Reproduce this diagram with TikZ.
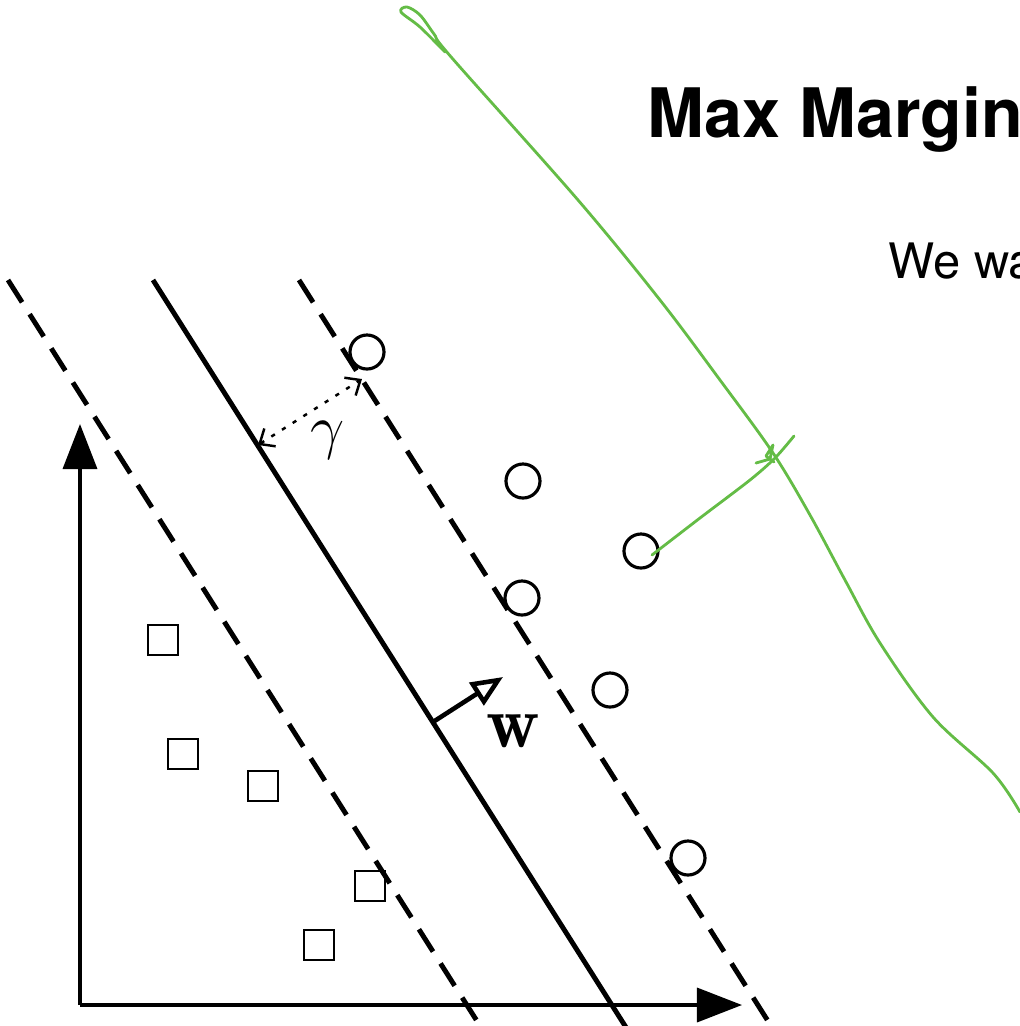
\documentclass[tikz,border=0pt]{standalone}
\usepackage{fontspec}
\newfontfamily\slidefont{TeX Gyre Heros}
\usetikzlibrary{arrows.meta}
\definecolor{penGreen}{RGB}{100,188,70}

\begin{document}
\begin{tikzpicture}[x=0.01cm, y=-0.01cm, >=Stealth]

% --- Styles ---
\tikzset{
    posdot/.style={
        circle, draw=black,
        line width=0.9pt,
        minimum size=0.34cm,
        inner sep=0pt
    },
    negbox/.style={
        rectangle, draw=black,
        line width=0.8pt,
        minimum size=0.30cm,
        inner sep=0pt
    },
    boundaryline/.style={line width=1.4pt},
    marginline/.style={line width=1.4pt, dash pattern=on 7.5pt off 4pt},
    axisline/.style={
        line width=0.9pt,
        -{Triangle[length=12.8pt,width=9.7pt]}
    },
    gaparrow/.style={
        line width=0.7pt,
        dash pattern=on 1.2pt off 2.4pt,
        {Straight Barb[length=3.5pt,width=6pt]}-{Straight Barb[length=3.5pt,width=6pt]}
    },
    normalvec/.style={
        line width=1.3pt,
        -{Triangle[open,length=9pt,width=7.5pt,line width=1.3pt]}
    },
    penstroke/.style={draw=penGreen, line width=0.8pt, line cap=round, line join=round}
}

\path[use as bounding box, clip] (0,0) rectangle (1020,1026);

% --- Text ---
\node[anchor=base west, inner sep=0pt, font=\slidefont\fontsize{19.4}{23}\selectfont\bfseries]
    (title) at (647,137) {Max Margin};
\node[anchor=base west, inner sep=0pt, font=\slidefont\fontsize{13.9}{17}\selectfont]
    (intro) at (888,278) {We wa};

% --- Axes ---
\coordinate (origin) at (80,1005);
\coordinate (xend) at (742,1005);
\coordinate (yend) at (80,424);
\draw[axisline] (origin) -- (xend);
\draw[axisline] (origin) -- (yend);

% --- Separating lines ---
\coordinate (a1) at (8,280);   \coordinate (a2) at (489,1040);
\coordinate (b1) at (153,280); \coordinate (b2) at (634,1040);
\coordinate (c1) at (299,280); \coordinate (c2) at (780,1040);
\draw[marginline] (a1) -- (a2);
\draw[boundaryline] (b1) -- (b2);
\draw[marginline] (c1) -- (c2);

% --- Data points ---
\node[posdot] (p1) at (367,352) {};
\node[posdot] (p2) at (523,481) {};
\node[posdot] (p3) at (641,551) {};
\node[posdot] (p4) at (522,598) {};
\node[posdot] (p5) at (610,690) {};
\node[posdot] (p6) at (688,858) {};

\node[negbox] (q1) at (163,640) {};
\node[negbox] (q2) at (183,754) {};
\node[negbox] (q3) at (263,786) {};
\node[negbox] (q4) at (370,886) {};
\node[negbox] (q5) at (319,945) {};

% --- Margin and normal ---
\coordinate (g1) at (258,445);
\coordinate (g2) at (362,379);
\draw[gaparrow] (g1) -- (g2);
\node[font=\fontsize{19}{22}\selectfont] (gamma) at (328,440) {$\gamma$};

\coordinate (w1) at (433,722);
\coordinate (w2) at (503,677);
\draw[normalvec] (w1) -- (w2);
\node[font=\fontsize{21}{24}\selectfont] (wlabel) at (513,731) {$\mathbf{w}$};

% --- Green pen strokes ---
\draw[penstroke] plot[smooth, tension=0.55] coordinates {
    (445,52) (420,27) (401,12) (407,7) (420,15) (434,34) (452,58)
    (578,200) (660,300) (720,380) (773,453) (810,515) (845,580)
    (880,643) (933,717) (993,773) (1020,812)};
\draw[penstroke] plot[smooth] coordinates {
    (652,555) (700,518) (750,480) (775,458) (794,436)};
\draw[penstroke] (756,463) -- (770,459) -- (773,445) -- (766,456) -- (774,462);

\end{tikzpicture}
\end{document}
